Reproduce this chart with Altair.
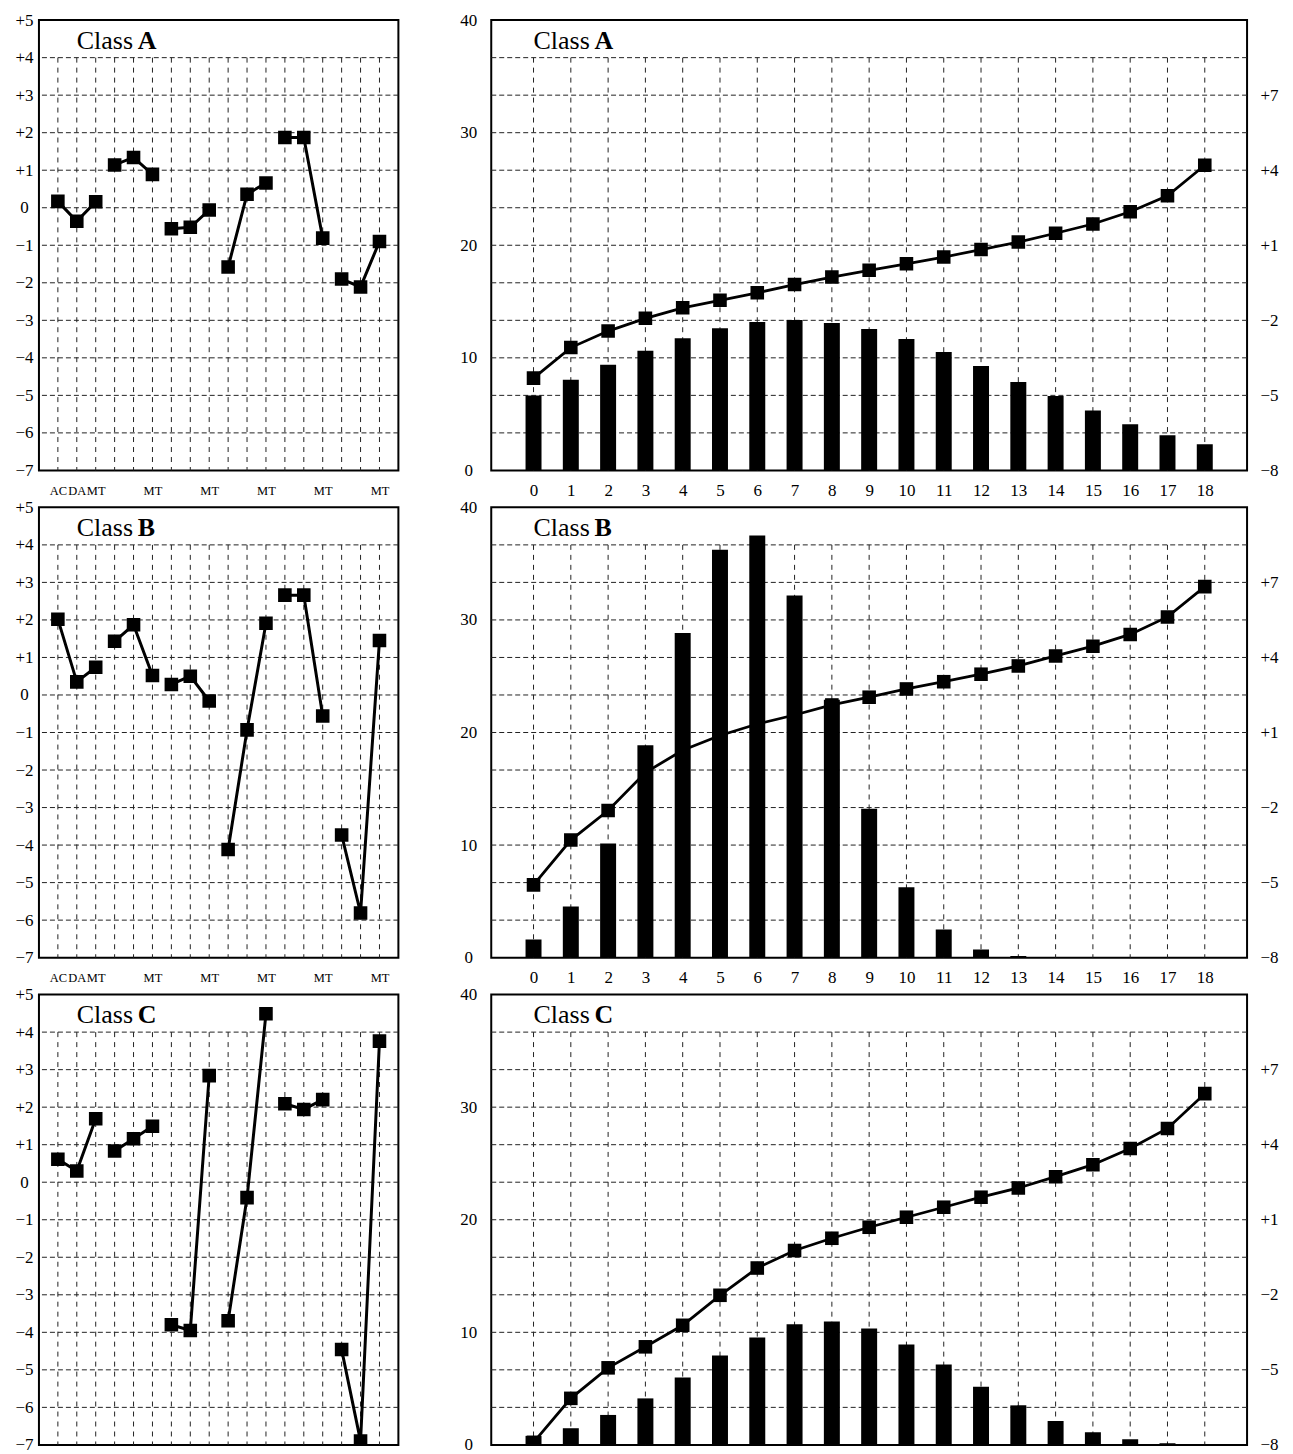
import altair as alt
import pandas as pd

# ---------------- data ----------------
classes = ["A", "B", "C"]

left_pos = list(range(1, 19))
left_group = [(p - 1) // 3 for p in left_pos]
left_tick_pos = [1, 2, 3, 6, 9, 12, 15, 18]
left_tick_text = ["AC", "DA", "MT", "MT", "MT", "MT", "MT", "MT"]
left_ylabels = [-7, -6, -5, -4, -3, -2, -1, 0, 1, 2, 3, 4, 5]
left_hgrid = [-6, -5, -4, -3, -2, -1, 0, 1, 2, 3, 4]

left_vals = {
    "A": [0.17, -0.36, 0.16, 1.14, 1.34, 0.89, -0.56, -0.52, -0.06,
          -1.58, 0.36, 0.66, 1.87, 1.87, -0.81, -1.90, -2.11, -0.90],
    "B": [2.02, 0.35, 0.74, 1.43, 1.87, 0.52, 0.28, 0.50, -0.16,
          -4.12, -0.93, 1.91, 2.66, 2.66, -0.56, -3.73, -5.81, 1.45],
    "C": [0.61, 0.30, 1.69, 0.83, 1.16, 1.49, -3.80, -3.95, 2.84,
          -3.69, -0.41, 4.49, 2.09, 1.94, 2.20, -4.46, -6.90, 3.76],
}

right_pos = list(range(0, 19))
right_left_labels = [0, 10, 20, 30, 40]
right_right_labels = [-8, -5, -2, 1, 4, 7]
right_hgrid = [-6.5, -5, -3.5, -2, -0.5, 1, 2.5, 4, 5.5, 7, 8.5]

bar_vals = {
    "A": [6.65, 8.06, 9.39, 10.62, 11.74, 12.63, 13.18, 13.36, 13.10, 12.57,
          11.68, 10.51, 9.27, 7.86, 6.60, 5.33, 4.09, 3.12, 2.33],
    "B": [1.61, 4.55, 10.15, 18.87, 28.84, 36.24, 37.50, 32.16, 22.92, 13.23,
          6.25, 2.49, 0.73, 0.15, 0, 0, 0, 0, 0],
    "C": [0.80, 1.48, 2.66, 4.13, 5.99, 7.94, 9.54, 10.72, 10.95, 10.33,
          8.92, 7.14, 5.17, 3.51, 2.13, 1.12, 0.50, 0.15, 0.05],
}
line_vals = {
    "A": [-4.31, -3.09, -2.43, -1.92, -1.50, -1.20, -0.90, -0.57, -0.27, 0.00,
          0.26, 0.53, 0.83, 1.13, 1.48, 1.85, 2.34, 2.98, 4.20],
    "B": [-5.09, -3.30, -2.12, -0.60, 0.29, 0.88, 1.34, 1.70, 2.10, 2.41,
          2.74, 3.03, 3.33, 3.66, 4.06, 4.45, 4.92, 5.62, 6.83],
    "C": [-7.90, -6.14, -4.92, -4.08, -3.22, -2.02, -0.93, -0.23, 0.26, 0.70,
          1.10, 1.50, 1.90, 2.27, 2.72, 3.20, 3.85, 4.65, 6.04],
}

# ---------------- styling ----------------
FONT = "Liberation Serif"
HDASH = [5, 3]
VDASH = [5, 5]
HCOL = "#222"
VCOL = "#222"
SIGN_EXPR = ("datum.value > 0 ? '+' + datum.value : "
             "(datum.value < 0 ? '\u2212' + abs(datum.value) : '0')")

left_label_expr = " : ".join(
    f"datum.value == {p} ? '{t}'" for p, t in zip(left_tick_pos, left_tick_text)
) + " : ''"

LW, LH = 360, 451
RW, RH = 757, 451

lx_scale = alt.Scale(domain=[0, 19], nice=False, zero=False)
ly_scale = alt.Scale(domain=[-7, 5], nice=False, zero=False)
rx_scale = alt.Scale(domain=[-1, 19], nice=False, zero=False)
rbar_scale = alt.Scale(domain=[0, 40], nice=False)
rline_scale = alt.Scale(domain=[-8, 10], nice=False, zero=False)

COMMON = dict(ticks=False, tickSize=0, domain=False, grid=False, title=None,
              labelOverlap=False, labelFlush=False)


def lx_axis(show):
    return alt.Axis(values=left_tick_pos, labelExpr=left_label_expr,
                    labelFontSize=12.5, labelPadding=14, labels=show, **COMMON)


def rx_axis(show):
    return alt.Axis(values=right_pos, labelFontSize=17, labelPadding=12,
                    labels=show, **COMMON)


ly_axis = alt.Axis(values=left_ylabels, labelExpr=SIGN_EXPR, labelFontSize=17,
                   labelAlign="center", labelPadding=15, **COMMON)
rbar_axis = alt.Axis(orient="left", values=right_left_labels, labelFontSize=17,
                     labelAlign="center", labelPadding=23, **COMMON)
rline_axis = alt.Axis(orient="right", values=right_right_labels,
                      labelExpr=SIGN_EXPR, labelFontSize=17,
                      labelAlign="center", labelPadding=22, **COMMON)


def title_layers(letter, xv, yv, xs, ys, xa, ya):
    df = pd.DataFrame({"x": [xv], "y": [yv], "t1": ["Class"], "t2": [letter]})
    base = alt.Chart(df)
    t1 = base.mark_text(align="left", baseline="alphabetic", font=FONT,
                        fontSize=26, color="black").encode(
        x=alt.X("x:Q", scale=xs, axis=xa), y=alt.Y("y:Q", scale=ys, axis=ya),
        text="t1:N")
    t2 = base.mark_text(align="left", baseline="alphabetic", font=FONT,
                        fontSize=26, fontWeight="bold", dx=61,
                        color="black").encode(
        x=alt.X("x:Q", scale=xs, axis=xa), y=alt.Y("y:Q", scale=ys, axis=ya),
        text="t2:N")
    return [t1, t2]


def left_panel(letter, show_x):
    xa = lx_axis(show_x)
    df = pd.DataFrame({"pos": left_pos, "v": left_vals[letter],
                       "grp": left_group})
    hg = alt.Chart(pd.DataFrame({"g": left_hgrid})).mark_rule(
        color=HCOL, strokeWidth=1, strokeDash=HDASH).encode(
        y=alt.Y("g:Q", scale=ly_scale, axis=ly_axis))
    vg = alt.Chart(pd.DataFrame({"x": left_pos, "top": [4] * 18,
                                 "bot": [-7] * 18})).mark_rule(
        color=VCOL, strokeWidth=1, strokeDash=VDASH).encode(
        x=alt.X("x:Q", scale=lx_scale, axis=xa),
        y=alt.Y("top:Q", scale=ly_scale, axis=ly_axis), y2="bot:Q")
    base = alt.Chart(df).encode(
        x=alt.X("pos:Q", scale=lx_scale, axis=xa),
        y=alt.Y("v:Q", scale=ly_scale, axis=ly_axis))
    line = base.mark_line(color="black", strokeWidth=3, clip=True).encode(
        detail="grp:N")
    pts = base.mark_square(color="black", size=185, opacity=1, clip=True)
    titles = title_layers(letter, 2, 4.23, lx_scale, ly_scale, xa, ly_axis)
    return alt.layer(hg, vg, line, pts, *titles).properties(width=LW, height=LH)


def right_panel(letter, show_x):
    xa = rx_axis(show_x)
    df = pd.DataFrame({"k": right_pos, "bar": bar_vals[letter],
                       "line": line_vals[letter]})
    hg = alt.Chart(pd.DataFrame({"g": right_hgrid})).mark_rule(
        color=HCOL, strokeWidth=1, strokeDash=HDASH).encode(
        y=alt.Y("g:Q", scale=rline_scale, axis=None))
    vg = alt.Chart(pd.DataFrame({"x": right_pos, "top": [8.5] * 19,
                                 "bot": [-8] * 19})).mark_rule(
        color=VCOL, strokeWidth=1, strokeDash=VDASH).encode(
        x=alt.X("x:Q", scale=rx_scale, axis=xa),
        y=alt.Y("top:Q", scale=rline_scale, axis=None), y2="bot:Q")
    grid = alt.layer(hg, vg)
    bars = alt.Chart(df).mark_bar(color="black", size=16, orient="vertical",
                                  clip=True).encode(
        x=alt.X("k:Q", scale=rx_scale, axis=xa),
        y=alt.Y("bar:Q", scale=rbar_scale, axis=rbar_axis))
    lbase = alt.Chart(df).encode(
        x=alt.X("k:Q", scale=rx_scale, axis=xa),
        y=alt.Y("line:Q", scale=rline_scale, axis=rline_axis))
    line = lbase.mark_line(color="black", strokeWidth=2.8, clip=True)
    pts = lbase.mark_square(color="black", size=185, opacity=1, clip=True)
    titles = title_layers(letter, 0, 8.85, rx_scale, rline_scale, xa,
                          rline_axis)
    top = alt.layer(line, pts, *titles)
    return alt.layer(grid, bars, top).resolve_scale(y="independent").properties(
        width=RW, height=RH)


panels = []
for i, c in enumerate(classes):
    show = i < len(classes) - 1
    panels.append(left_panel(c, show))
    panels.append(right_panel(c, show))

chart = alt.concat(*panels, columns=2, spacing={"row": 37, "column": 93},
                   bounds="flush").properties(
    padding={"left": 5, "top": 1, "right": 5, "bottom": 5}
).configure_view(stroke="black", strokeWidth=2).configure_axis(
    labelFont=FONT, labelColor="black"
)

chart.save("out.html", embed_options={"renderer": "svg", "actions": False})
